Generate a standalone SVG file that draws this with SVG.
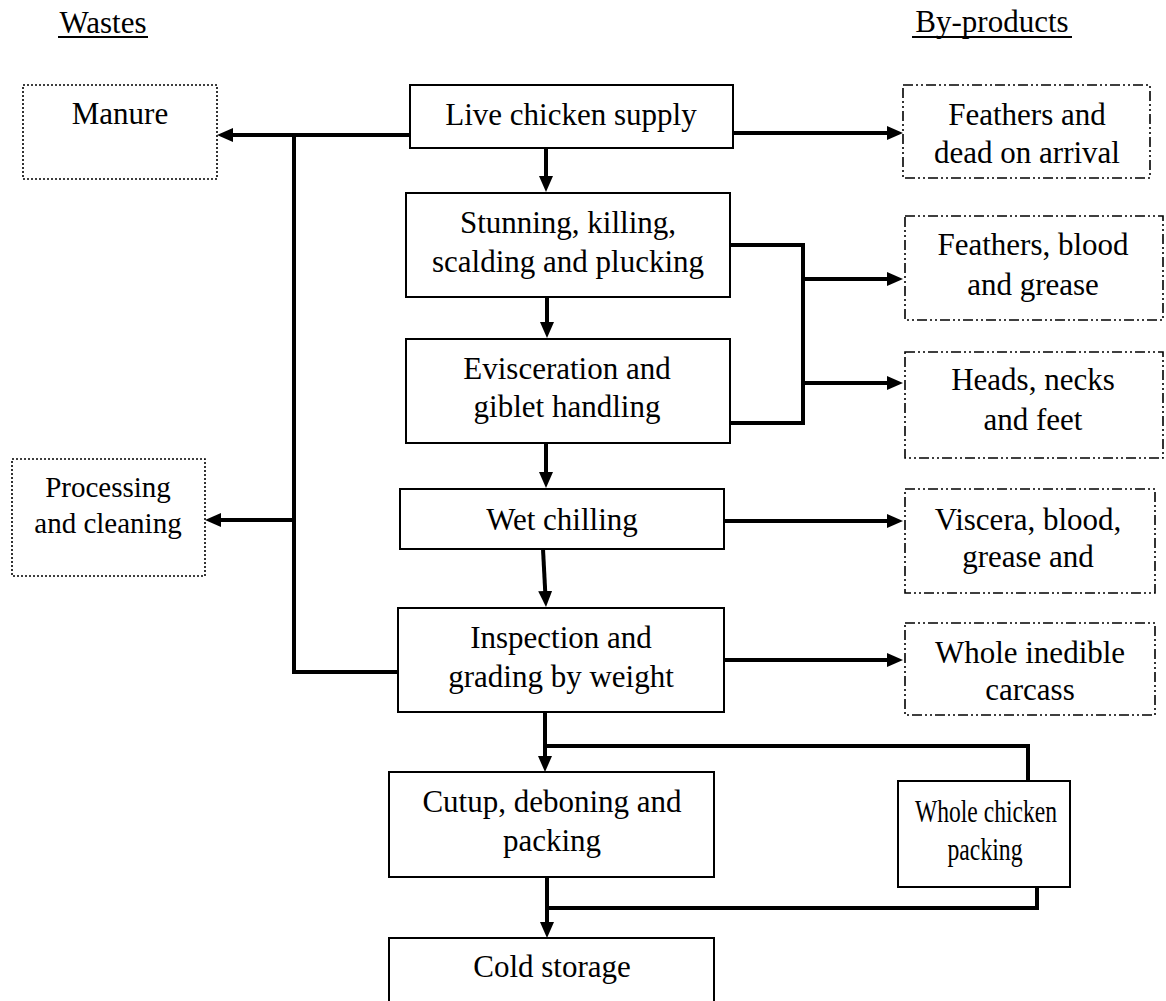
<svg xmlns="http://www.w3.org/2000/svg" width="1166" height="1001" viewBox="0 0 1166 1001">
<style>
text{font-family:"Liberation Serif","Times New Roman",serif;font-size:31px;fill:#000;text-anchor:middle}
.small{font-size:29px}
.box{fill:#fff;stroke:#000;stroke-width:2}
.waste{fill:#fff;stroke:#000;stroke-width:1.6;stroke-dasharray:2 2}
.byp{fill:#fff;stroke:#000;stroke-width:1.6;stroke-dasharray:10 3 2 3 2 3}
.con{fill:none;stroke:#000;stroke-width:4}
.arr{fill:none;stroke:#000;stroke-width:4;marker-end:url(#ah)}
.ul{stroke:#000;stroke-width:2}
</style>
<defs>
<marker id="ah" markerUnits="userSpaceOnUse" viewBox="0 0 16 14" markerWidth="16" markerHeight="14" refX="6" refY="7" orient="auto">
<path d="M0,0 L16,7 L0,14 z" fill="#000"/>
</marker>
</defs>
<rect width="1166" height="1001" fill="#fff"/>

<g id="headers">
<text x="103" y="33">Wastes</text>
<line class="ul" x1="58" y1="37" x2="148" y2="37"/>
<text x="992" y="32">By-products</text>
<line class="ul" x1="912" y1="37" x2="1072" y2="37"/>
</g>

<g id="connectors">
<line class="arr" x1="410" y1="135" x2="227" y2="135"/>
<path class="con" d="M398,672 H294 V135"/>
<line class="arr" x1="294" y1="520" x2="215" y2="520"/>
<line class="arr" x1="733" y1="133" x2="893" y2="133"/>
<line class="arr" x1="546" y1="148" x2="546" y2="182"/>
<line class="arr" x1="547" y1="297" x2="547" y2="328"/>
<line class="arr" x1="546" y1="443" x2="546" y2="478"/>
<line class="arr" x1="543" y1="549" x2="545.5" y2="597"/>
<path class="con" d="M730,245 H803 V423 H730"/>
<line class="arr" x1="803" y1="279" x2="893" y2="279"/>
<line class="arr" x1="803" y1="383" x2="893" y2="383"/>
<line class="arr" x1="724" y1="521" x2="893" y2="521"/>
<line class="arr" x1="724" y1="660" x2="893" y2="660"/>
<line class="arr" x1="545" y1="712" x2="545" y2="762"/>
<path class="con" d="M545,746 H1028 V781"/>
<line class="arr" x1="547" y1="877" x2="547" y2="928"/>
<path class="con" d="M1037,887 V908 H547"/>
</g>

<g id="manure">
<rect class="waste" x="23" y="85" width="194" height="94"/>
<text x="120" y="124">Manure</text>
</g>
<g id="live">
<rect class="box" x="410" y="85" width="323" height="63"/>
<text x="571" y="125">Live chicken supply</text>
</g>
<g id="doa">
<rect class="byp" x="903" y="85" width="247" height="93"/>
<text x="1027" y="125">Feathers and</text>
<text x="1027" y="163">dead on arrival</text>
</g>
<g id="stunning">
<rect class="box" x="406" y="193" width="324" height="104"/>
<text x="568" y="233">Stunning, killing,</text>
<text x="568" y="272">scalding and plucking</text>
</g>
<g id="feathers">
<rect class="byp" x="905" y="216" width="258" height="104"/>
<text x="1033" y="255">Feathers, blood</text>
<text x="1033" y="295">and grease</text>
</g>
<g id="evisceration">
<rect class="box" x="406" y="339" width="324" height="104"/>
<text x="567" y="379">Evisceration and</text>
<text x="567" y="417">giblet handling</text>
</g>
<g id="heads">
<rect class="byp" x="905" y="352" width="258" height="106"/>
<text x="1033" y="390">Heads, necks</text>
<text x="1033" y="430">and feet</text>
</g>
<g id="processing">
<rect class="waste" x="12" y="459" width="193" height="117"/>
<text class="small" x="108" y="497">Processing</text>
<text class="small" x="108" y="533">and cleaning</text>
</g>
<g id="wetchilling">
<rect class="box" x="400" y="489" width="324" height="60"/>
<text x="562" y="530">Wet chilling</text>
</g>
<g id="viscera">
<rect class="byp" x="905" y="489" width="250" height="104"/>
<text x="1028" y="530">Viscera, blood,</text>
<text x="1028" y="567">grease and</text>
</g>
<g id="inspection">
<rect class="box" x="398" y="608" width="326" height="104"/>
<text x="561" y="648">Inspection and</text>
<text x="561" y="687">grading by weight</text>
</g>
<g id="inedible">
<rect class="byp" x="905" y="623" width="250" height="92"/>
<text x="1030" y="663">Whole inedible</text>
<text x="1030" y="700">carcass</text>
</g>
<g id="cutup">
<rect class="box" x="389" y="772" width="325" height="105"/>
<text x="552" y="812">Cutup, deboning and</text>
<text x="552" y="851">packing</text>
</g>
<g id="wholechicken">
<rect class="box" x="898" y="781" width="172" height="106"/>
<text x="986" y="822" textLength="142" lengthAdjust="spacingAndGlyphs">Whole chicken</text>
<text x="985" y="860" textLength="75" lengthAdjust="spacingAndGlyphs">packing</text>
</g>
<g id="coldstorage">
<rect class="box" x="389" y="938" width="325" height="80"/>
<text x="552" y="977">Cold storage</text>
</g>
</svg>
